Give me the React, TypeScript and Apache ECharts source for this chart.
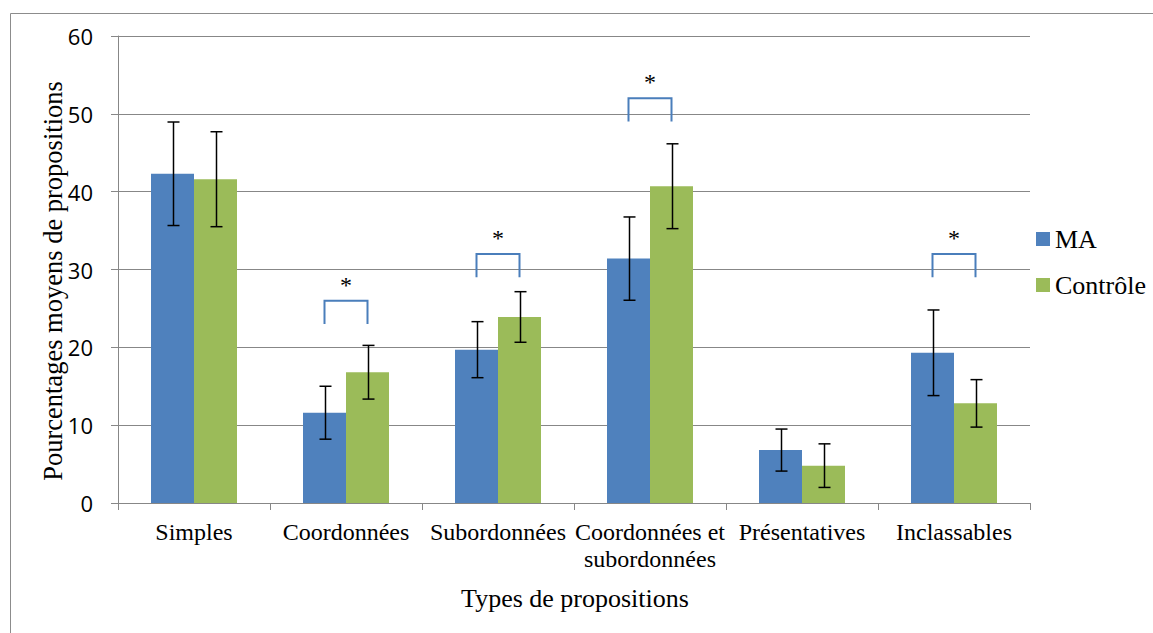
import React, { useEffect, useRef } from "react";
import * as echarts from "echarts";

const categories = [
  "Simples",
  "Coordonnées",
  "Subordonnées",
  "Coordonnées et\nsubordonnées",
  "Présentatives",
  "Inclassables",
];
const seriesNames = ["MA", "Contrôle"];
const maMeans = [42.3, 11.6, 19.7, 31.4, 6.8, 19.3];
const controleMeans = [41.6, 16.8, 23.9, 40.7, 4.8, 12.8];
const maErrors = [6.65, 3.4, 3.6, 5.35, 2.7, 5.5];
const controleErrors = [6.1, 3.45, 3.25, 5.45, 2.8, 3.05];
// top level of the significance bracket (null = no significant difference)
const bracketLevels: (number | null)[] = [null, 26, 32, 52, null, 32];
const bracketDepth = 3;
const yMin = 0;
const yMax = 60;
const yInterval = 10;
const yTitle = "Pourcentages moyens de propositions";
const xTitle = "Types de propositions";

const BLUE = "#4f81bd";
const GREEN = "#9bbb59";
const GRID = "#878787";
const SERIF = "'Liberation Serif', 'Times New Roman', serif";
const SANS = "'Open Sans', sans-serif";
const BAR_W = 43;

export default function App() {
  const ref = useRef<HTMLDivElement>(null);
  useEffect(() => {
    if (!ref.current) return;
    const chart = echarts.init(ref.current, undefined, { renderer: "svg" });

    const errData: number[][] = [];
    maMeans.forEach((m, i) => errData.push([i, m - maErrors[i], m + maErrors[i], -1]));
    controleMeans.forEach((m, i) =>
      errData.push([i, m - controleErrors[i], m + controleErrors[i], 1])
    );
    const bracketData: number[][] = [];
    bracketLevels.forEach((v, i) => {
      if (v !== null) bracketData.push([i, v]);
    });

    chart.setOption({
      animation: false,
      grid: { left: 118, right: 123, top: 36, bottom: 130 },
      legend: {
        data: seriesNames,
        orient: "vertical",
        left: 1031,
        top: 219,
        icon: "rect",
        itemWidth: 14,
        itemHeight: 14,
        itemGap: 16,
        textStyle: { fontFamily: SERIF, fontSize: 26, color: "#000", lineHeight: 30 },
      },
      xAxis: {
        type: "category",
        data: categories,
        axisLine: { lineStyle: { color: GRID, width: 1 } },
        axisTick: { show: true, length: 7, lineStyle: { color: GRID } },
        axisLabel: {
          interval: 0,
          margin: 15,
          fontFamily: SERIF,
          fontSize: 24,
          lineHeight: 27,
          color: "#000",
        },
      },
      yAxis: {
        type: "value",
        min: yMin,
        max: yMax,
        interval: yInterval,
        axisLine: { show: true, lineStyle: { color: GRID, width: 1 } },
        axisTick: { show: true, length: 7, lineStyle: { color: GRID } },
        splitLine: { lineStyle: { color: GRID, width: 1 } },
        axisLabel: { margin: 25, fontFamily: SANS, fontSize: 22, color: "#000" },
      },
      graphic: [
        {
          type: "rect",
          shape: { x: 10.5, y: 13.5, width: 1300, height: 800 },
          style: { fill: "none", stroke: "#8c8c8c", lineWidth: 1 },
          silent: true,
        },
        {
          type: "text",
          x: 53,
          y: 281,
          rotation: Math.PI / 2,
          style: {
            text: yTitle,
            fontFamily: SERIF,
            fontSize: 26.5,
            fill: "#000",
            align: "center",
            verticalAlign: "middle",
          },
        },
        {
          type: "text",
          x: 575,
          y: 598,
          style: {
            text: xTitle,
            fontFamily: SERIF,
            fontSize: 26,
            fill: "#000",
            align: "center",
            verticalAlign: "middle",
          },
        },
      ],
      series: [
        {
          name: seriesNames[0],
          type: "bar",
          data: maMeans,
          barWidth: BAR_W,
          barGap: "0%",
          itemStyle: { color: BLUE },
        },
        {
          name: seriesNames[1],
          type: "bar",
          data: controleMeans,
          barWidth: BAR_W,
          barGap: "0%",
          itemStyle: { color: GREEN },
        },
        {
          type: "custom",
          data: errData,
          encode: { x: 0, y: [1, 2] },
          z: 10,
          clip: false,
          renderItem: (params: any, api: any) => {
            const i = api.value(0);
            const lo = api.coord([i, api.value(1)]);
            const hi = api.coord([i, api.value(2)]);
            const side = api.value(3);
            const x = Math.round(lo[0] + (side * BAR_W) / 2) + 0.5;
            const cap = 6;
            const st = { stroke: "#000", lineWidth: 1.5 };
            return {
              type: "group",
              children: [
                { type: "line", shape: { x1: x, y1: hi[1], x2: x, y2: lo[1] }, style: st },
                { type: "line", shape: { x1: x - cap, y1: hi[1], x2: x + cap, y2: hi[1] }, style: st },
                { type: "line", shape: { x1: x - cap, y1: lo[1], x2: x + cap, y2: lo[1] }, style: st },
              ],
            };
          },
        },
        {
          type: "custom",
          data: bracketData,
          encode: { x: 0, y: 1 },
          z: 10,
          clip: false,
          renderItem: (params: any, api: any) => {
            const i = api.value(0);
            const top = api.value(1);
            const pt = api.coord([i, top]);
            const pb = api.coord([i, top - bracketDepth]);
            const x1 = pt[0] - BAR_W / 2;
            const x2 = pt[0] + BAR_W / 2;
            return {
              type: "group",
              children: [
                {
                  type: "polyline",
                  shape: {
                    points: [
                      [x1, pb[1]],
                      [x1, pt[1]],
                      [x2, pt[1]],
                      [x2, pb[1]],
                    ],
                  },
                  style: { stroke: "#4a7ebb", lineWidth: 2, fill: "none" },
                },
                {
                  type: "text",
                  x: pt[0],
                  y: pt[1] - 16,
                  style: {
                    text: "*",
                    fontFamily: SERIF,
                    fontSize: 24,
                    fill: "#000",
                    align: "center",
                    verticalAlign: "middle",
                  },
                },
              ],
            };
          },
        },
      ],
    });
    return () => chart.dispose();
  }, []);
  return (
    <div
      ref={ref}
      style={{ position: "absolute", left: 0, top: 0, width: 1153, height: 633, background: "#fff" }}
    />
  );
}
